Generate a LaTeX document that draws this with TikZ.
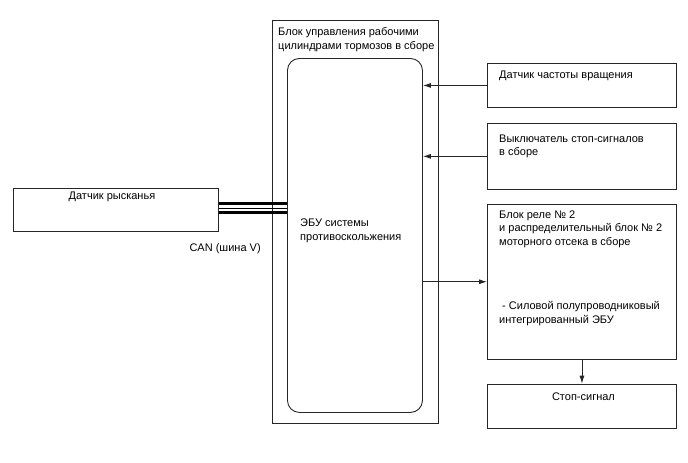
\documentclass[tikz,border=0pt]{standalone}
\usepackage{fontspec}
\setmainfont{Liberation Sans}
\usetikzlibrary{arrows.meta,positioning}

\begin{document}
\begin{tikzpicture}[x=1pt, y=-1pt,
  box/.style={rectangle, draw=black!85, line width=0.9pt, inner sep=0pt, minimum width=189pt, anchor=north west},
  txt/.style={inner sep=0pt, anchor=north west, align=left, font=\fontsize{11}{13.5}\selectfont},
  arr/.style={-{Latex[length=8pt,width=5pt]}, line width=0.9pt, draw=black!85}]
\useasboundingbox (0,0) rectangle (688,463);
% brake actuator assembly with ECU inside
\node[box, minimum width=166pt, minimum height=403pt] (outer) at (272,20) {};
\node[box, minimum width=135pt, minimum height=354pt, rounded corners=12pt] (ecu) at (287,58) {};
% sensors and switches on the right
\node[box, minimum height=44pt] (r1) at (487,63) {};
\node[box, minimum height=66pt, below=15pt of r1] (r2) {};
\node[box, minimum height=155pt, below=14pt of r2] (r3) {};
\node[box, minimum height=44pt, below=24pt of r3] (r4) {};
% yaw rate sensor
\node[box, minimum width=205pt, minimum height=43pt] (yaw) at (13,188) {};

% labels
\node[txt, below right=7.5pt and 6pt of outer.north west] (tOuter) {Блок управления рабочими\\цилиндрами тормозов в сборе};
\node[txt, below right=161pt and 13pt of ecu.north west] (tEcu) {ЭБУ системы\\противоскольжения};
\node[txt, below right=7.5pt and 12pt of r1.north west] (t1) {Датчик частоты вращения};
\node[txt, below right=11.5pt and 12pt of r2.north west] (t2) {Выключатель стоп-сигналов\\в сборе};
\node[txt, below right=6.5pt and 12pt of r3.north west] (t3) {Блок реле № 2\\и распределительный блок № 2\\моторного отсека в сборе};
\node[txt, below right=97.5pt and 12pt of r3.north west] (t3b) {\hspace*{3pt}- Силовой полупроводниковый\\интегрированный ЭБУ};
\node[txt, anchor=north, below=8.5pt of r4.north, xshift=1.5pt] (t4) {Стоп-сигнал};
\node[txt, anchor=north, below=3.5pt of yaw.north, xshift=-4pt] (tYaw) {Датчик рысканья};
\node[txt, anchor=north east] (tCan) at ([shift={(42pt,-11pt)}]yaw.south east) {CAN (шина V)};

% connections
\foreach \n in {r1,r2} \draw[arr] (\n.west) -- (\n.west -| ecu.east);
\draw[arr] (r3.west -| ecu.east) -- (r3.west);
\draw[arr] (r3.south) -- (r4.north);
% CAN bus wires
\foreach \dy/\w in {6.5/3.5pt,1.5/1.2pt,-2.5/2.2pt}
  \draw[line width=\w] ([yshift=\dy pt]yaw.east) -- ([yshift=\dy pt]yaw.east -| ecu.west);
\end{tikzpicture}
\end{document}
